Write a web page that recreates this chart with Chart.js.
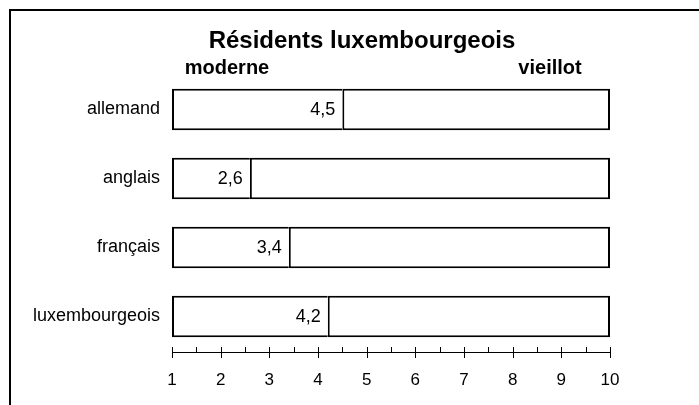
<!DOCTYPE html>
<html lang="fr">
<head>
<meta charset="utf-8">
<script src="https://cdn.jsdelivr.net/npm/chart.js@4"></script>
<style>
  html, body { margin: 0; padding: 0; background: #fff; }
  #wrap { position: relative; width: 699px; height: 405px; }
  #frame { position: absolute; left: 9px; top: 9px; right: -10px; bottom: -10px;
           border-top: 2px solid #000; border-left: 2px solid #000; pointer-events: none; }
</style>
</head>
<body>
<div id="wrap">
  <canvas id="chart" width="699" height="405"></canvas>
  <div id="frame"></div>
</div>
<script>
const languages = ['allemand', 'anglais', 'français', 'luxembourgeois'];
const scores = [4.5, 2.6, 3.4, 4.2];
const scaleMin = 1;
const scaleMax = 10;
const chartTitle = 'Résidents luxembourgeois';
const leftPole = 'moderne';
const rightPole = 'vieillot';

const FONT = '"Liberation Sans", Arial, sans-serif';
const fmt = v => String(v).replace('.', ',');

// axis line with major ticks crossing it and short minor ticks above
const axisPlugin = {
  id: 'axisLine',
  afterDraw(chart) {
    const { ctx, scales: { x }, chartArea } = chart;
    const y0 = chartArea.bottom + 1;
    ctx.save();
    ctx.strokeStyle = '#000';
    ctx.lineWidth = 1;
    ctx.beginPath();
    ctx.moveTo(x.getPixelForValue(scaleMin), y0 + 0.5);
    ctx.lineTo(x.getPixelForValue(scaleMax), y0 + 0.5);
    for (let v = scaleMin; v <= scaleMax; v += 0.5) {
      const px = Math.round(x.getPixelForValue(v)) + 0.5;
      const major = Number.isInteger(v);
      ctx.moveTo(px, y0 - 5);
      ctx.lineTo(px, major ? y0 + 6 : y0);
    }
    ctx.stroke();
    ctx.restore();
  }
};

// title, pole labels and value labels
const textPlugin = {
  id: 'texts',
  afterDatasetsDraw(chart) {
    const { ctx, scales: { x, y } } = chart;
    ctx.save();
    ctx.fillStyle = '#000';
    ctx.textBaseline = 'middle';
    ctx.textAlign = 'center';
    ctx.font = 'bold 24px ' + FONT;
    ctx.fillText(chartTitle, 362, 41);
    ctx.font = 'bold 20px ' + FONT;
    ctx.fillText(leftPole, 227, 68);
    ctx.fillText(rightPole, 550, 68);
    ctx.font = '18px ' + FONT;
    ctx.textAlign = 'right';
    scores.forEach((v, i) => {
      ctx.fillText(fmt(v), x.getPixelForValue(v) - 7, y.getPixelForValue(i) + 1);
    });
    ctx.restore();
  }
};

new Chart(document.getElementById('chart'), {
  type: 'bar',
  data: {
    labels: languages,
    datasets: [
      {
        data: scores.map(v => [scaleMin, v]),
        backgroundColor: '#fff',
        borderColor: '#000',
        borderWidth: { top: 2, bottom: 2, left: 2, right: 0 },
        borderSkipped: false
      },
      {
        data: scores.map(v => [v, scaleMax]),
        backgroundColor: '#fff',
        borderColor: '#000',
        borderWidth: { top: 2, bottom: 2, left: 2, right: 2 },
        borderSkipped: false
      }
    ]
  },
  options: {
    indexAxis: 'y',
    responsive: false,
    animation: false,
    layout: { padding: { top: 75, right: 89, bottom: 0, left: 0 } },
    categoryPercentage: 0.6,
    barPercentage: 1,
    scales: {
      x: {
        min: scaleMin,
        max: scaleMax,
        grid: { display: false },
        border: { display: false },
        ticks: {
          stepSize: 1,
          padding: 11,
          color: '#000',
          font: { family: FONT, size: 17 },
          maxRotation: 0
        },
        afterFit: s => { s.height = 54; }
      },
      y: {
        stacked: true,
        grid: { display: false, drawTicks: false },
        border: { display: false },
        ticks: {
          padding: 12,
          color: '#000',
          font: { family: FONT, size: 18 }
        },
        afterFit: s => { s.width = 172; }
      }
    },
    plugins: {
      legend: { display: false },
      tooltip: { enabled: false },
      title: { display: false }
    }
  },
  plugins: [axisPlugin, textPlugin]
});
</script>
</body>
</html>
